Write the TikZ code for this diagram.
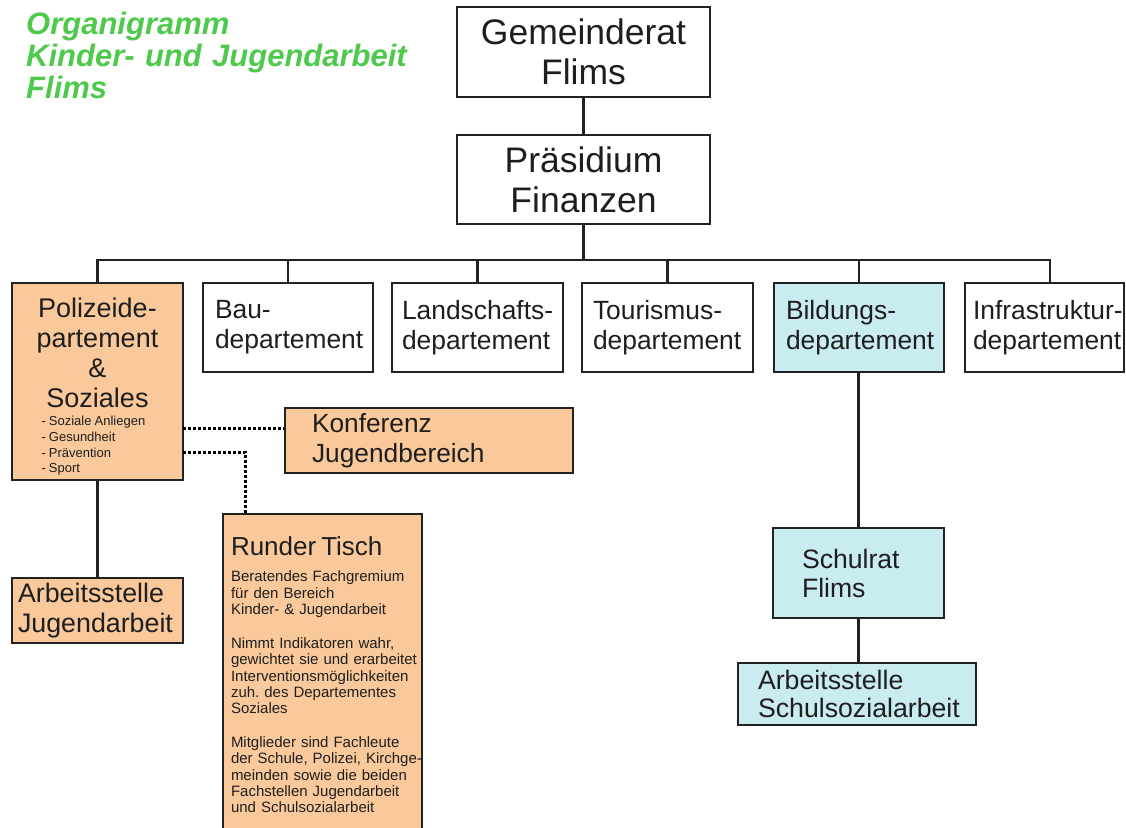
\documentclass[tikz,border=0pt]{standalone}
\usepackage{fontspec}
\setmainfont{Liberation Sans}
\definecolor{linec}{HTML}{222222}
\definecolor{textc}{HTML}{1E1E1E}
\definecolor{peach}{HTML}{FAC99B}
\definecolor{aqua}{HTML}{C8ECEF}
\definecolor{titlegreen}{HTML}{4FC94C}
\newcommand\fbig{\fontsize{35.5}{40}\selectfont}
\newcommand\fdept{\fontsize{26.4}{30}\selectfont}
\newcommand\fbody{\fontsize{15}{16.3}\selectfont}
\newcommand\fsmall{\fontsize{13}{15.7}\selectfont\spaceskip=0.24em}
\newcommand\ml[1]{\mbox{#1}}
\begin{document}
\frenchspacing
\begin{tikzpicture}[x=1pt,y=-1pt,
  box/.style={draw=linec, line width=2.6pt, inner sep=0pt, text=textc,
    execute at begin node={\frenchspacing\hyphenpenalty=10000\exhyphenpenalty=10000\hbadness=10000\hfuzz=200pt}},
  conn/.style={draw=linec, line width=2.6pt},
  dots/.style={draw=black, line width=3pt, dash pattern=on 3pt off 2pt}]
\useasboundingbox (0,0) rectangle (1126,827);
\clip (0,0) rectangle (1126,827);
% title
\node[anchor=west, inner sep=0pt, text width=420, align=left, text=titlegreen,
  font={\fontsize{31}{32}\selectfont\bfseries\itshape\spaceskip=0.24em}] (title) at (26,55)
  {Organigramm\\\ml{Kinder- und Jugendarbeit}\\Flims};
% top boxes
\node[box, minimum width=253, minimum height=90, align=center, font=\fbig] (gem) at (583.5,52) {Gemeinderat\\Flims};
\node[box, minimum width=253, minimum height=89, align=center, font=\fbig, text depth=0pt] (pre) at (583.5,179.5) {Präsidium\\Finanzen};
% departments
\node[box, fill=peach, minimum width=171, minimum height=197, text width=171, align=center, font={\fontsize{27}{30}\selectfont}] (pol) at (97.5,381.5)
  {\rule{0pt}{30pt}Polizeide-\\partement\\\&\\Soziales\\[-12pt]\parbox[t]{112pt}{\raggedright\fsmall\ml{- Soziale Anliegen}\\\ml{- Gesundheit}\\\ml{- Prävention}\\\ml{- Sport}}};
\node[box, minimum width=170, minimum height=89, text width=146, align=left, font=\fdept] (bau) at (288,327.5) {\ml{Bau-}\\departement};
\node[box, minimum width=171, minimum height=89, text width=151, align=left, font=\fdept] (land) at (477.5,327.5) {\ml{Landschafts-}\\departement};
\node[box, minimum width=171, minimum height=89, text width=149, align=left, font=\fdept] (tour) at (667.5,327.5) {\ml{Tourismus-}\\departement};
\node[box, fill=aqua, minimum width=170, minimum height=89, text width=146, align=left, font=\fdept] (bil) at (859,327.5) {\ml{Bildungs-}\\departement};
\node[box, minimum width=159, minimum height=89, text width=143, align=left, font=\fdept] (infra) at (1044.5,327.5) {\ml{Infrastruktur-}\\departement};
% lower left
\node[box, fill=peach, minimum width=288, minimum height=65, text width=234, align=left, font={\fontsize{26.3}{30}\selectfont}] (konf) at (429,440.5) {Konferenz\\Jugendbereich};
\node[box, fill=peach, minimum width=171, minimum height=65, text width=159, align=left, font={\fontsize{26.8}{30}\selectfont}] (arbj) at (97.5,610.5) {Arbeitsstelle\\Jugendarbeit};
\node[box, fill=peach, minimum width=199, minimum height=322, text width=183, align=left, font=\fbody] (rt) at (322.5,675)
  {{\fontsize{26}{26}\selectfont\ml{Runder Tisch}}\\[9.7pt]
   \ml{Beratendes Fachgremium}\\\ml{für den Bereich}\\\ml{Kinder- \& Jugendarbeit}\\[17.7pt]
   \ml{Nimmt Indikatoren wahr,}\\\ml{gewichtet sie und erarbeitet}\\\ml{Interventionsmöglichkeiten}\\\ml{zuh. des Departementes}\\Soziales\\[17.7pt]
   \ml{Mitglieder sind Fachleute}\\\ml{der Schule, Polizei, Kirchge-}\\\ml{meinden sowie die beiden}\\\ml{Fachstellen Jugendarbeit}\\\ml{und Schulsozialarbeit}};
% lower right
\node[box, fill=aqua, minimum width=171, minimum height=90, text width=113, align=left, font={\fontsize{26.6}{29}\selectfont}] (sch) at (858.5,573) {Schulrat\\Flims};
\node[box, fill=aqua, minimum width=238, minimum height=62, text width=198, align=left, font={\fontsize{26.7}{28}\selectfont}] (sozi) at (857,694) {Arbeitsstelle\\Schulsozialarbeit};
% connectors
\coordinate (bus) at (583.5,260);
\coordinate (infratop) at (1050,283);
\draw[conn] (gem.south) -- (pre.north);
\draw[conn] (pre.south) -- (bus);
\draw[conn] (pol.north) -- (pol.north |- bus) -- (infratop |- bus) -- (infratop);
\draw[conn] (bau.north) -- (bau.north |- bus);
\draw[conn] (land.north) -- (land.north |- bus);
\draw[conn] (tour.north) -- (tour.north |- bus);
\draw[conn] (bil.north) -- (bil.north |- bus);
\draw[conn] (pol.south) -- (arbj.north);
\draw[conn] (sch.north |- bil.south) -- (sch.north);
\draw[conn] (sch.south) -- (sozi.north -| sch.south);
\coordinate (k1) at (183,428);
\coordinate (k2) at (183,452);
\coordinate (rtin) at (245,514);
\draw[dots] (k1) -- (k1 -| konf.west);
\draw[dots] (k2) -| (rtin);
\end{tikzpicture}
\end{document}
